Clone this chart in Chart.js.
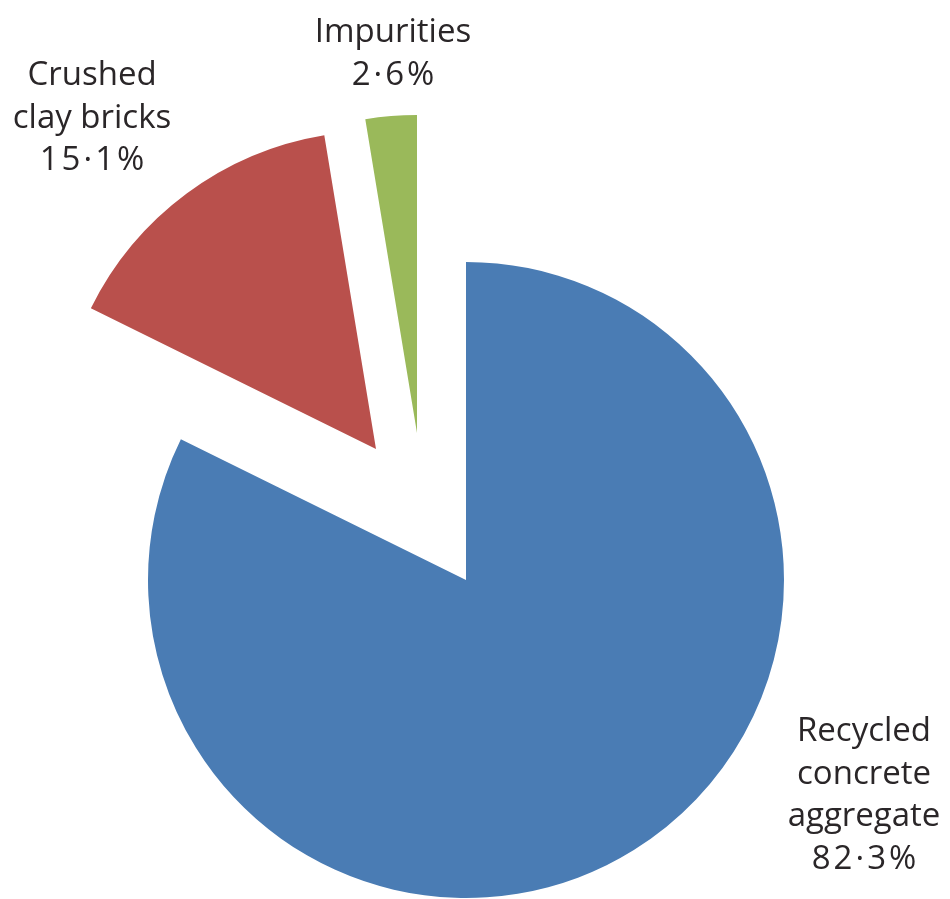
<!DOCTYPE html>
<html>
<head>
<meta charset="utf-8">
<script src="https://cdn.jsdelivr.net/npm/chart.js@4.4.1/dist/chart.umd.min.js"></script>
<style>
  body { margin: 0; background: #fff; }
  canvas { display: block; }
</style>
</head>
<body>
<canvas id="pie" width="950" height="899"></canvas>
<script>
// data
const categories = [
  ['Recycled', 'concrete', 'aggregate'],
  ['Crushed', 'clay bricks'],
  ['Impurities']
];
const shares = [82.3, 15.1, 2.6];
const colours = ['#4a7cb4', '#b9504c', '#9ab95a'];

// how far each slice is pulled out of the pie (px)
const explode = [[0, 0], [-90, -131], [-49, -147]];

// where each label block sits: centre x, first baseline
const labelAnchors = [[864, 741], [92, 85], [393, 42]];

function fmt(v) {
  return v.toFixed(1).replace('.', '\u00b7') + '%';
}

const explodePlugin = {
  id: 'explode',
  afterDatasetsUpdate(chart) {
    const meta = chart.getDatasetMeta(0);
    meta.data.forEach((arc, i) => {
      arc.x += explode[i][0];
      arc.y += explode[i][1];
    });
  }
};

const labelPlugin = {
  id: 'sliceLabels',
  afterDatasetsDraw(chart) {
    const ctx = chart.ctx;
    ctx.save();
    ctx.font = '33px "Open Sans", "Noto Sans", sans-serif';
    ctx.fillStyle = '#2a2628';
    ctx.textAlign = 'center';
    ctx.textBaseline = 'alphabetic';
    categories.forEach((lines, i) => {
      const [cx, y0] = labelAnchors[i];
      lines.forEach((t, k) => {
        ctx.letterSpacing = '0px';
        ctx.fillText(t, cx, y0 + k * 42.5);
      });
      // the percentages are set a little wider in the original
      ctx.letterSpacing = '3px';
      ctx.fillText(fmt(shares[i]), cx + 1.5, y0 + lines.length * 42.5);
    });
    ctx.restore();
  }
};

new Chart(document.getElementById('pie'), {
  type: 'pie',
  data: {
    labels: categories.map(c => c.join(' ')),
    datasets: [{
      data: shares,
      backgroundColor: colours,
      borderWidth: 0
    }]
  },
  options: {
    responsive: false,
    animation: false,
    events: [],
    radius: 318,
    layout: { padding: { left: 0, right: 18, top: 261, bottom: 0 } },
    plugins: {
      legend: { display: false },
      tooltip: { enabled: false }
    }
  },
  plugins: [explodePlugin, labelPlugin]
});
</script>
</body>
</html>
